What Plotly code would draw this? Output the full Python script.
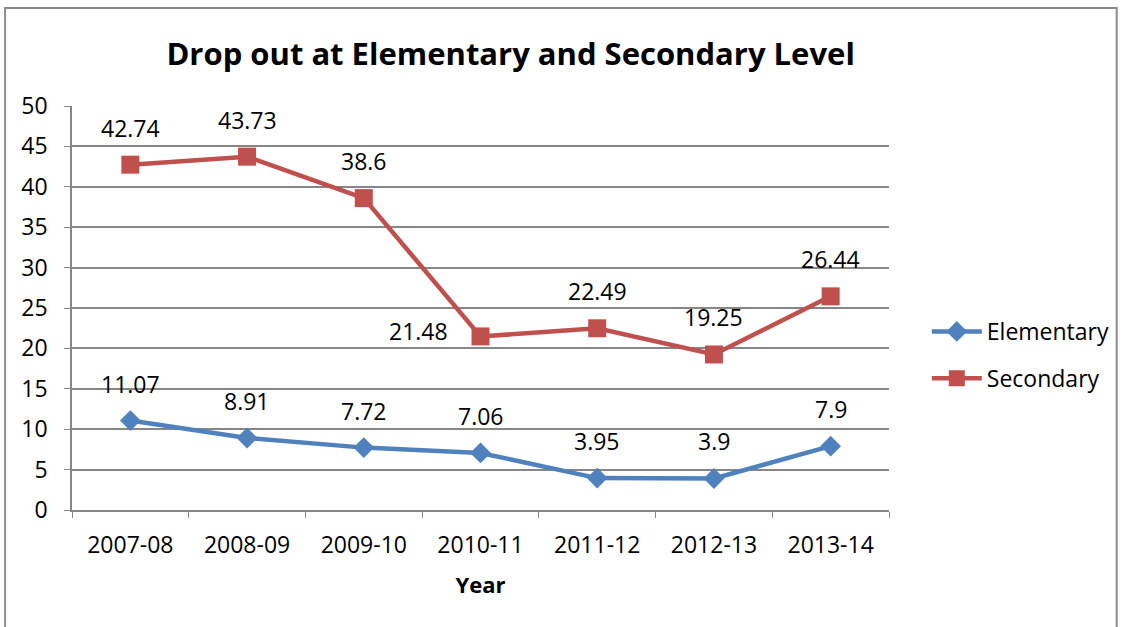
import plotly.graph_objects as go

years = ["2007-08", "2008-09", "2009-10", "2010-11", "2011-12", "2012-13", "2013-14"]
elementary = [11.07, 8.91, 7.72, 7.06, 3.95, 3.9, 7.9]
secondary = [42.74, 43.73, 38.6, 21.48, 22.49, 19.25, 26.44]

BLUE = "#4F81BD"
RED = "#C0504D"
GRID = "#868686"
FONT = "Open Sans"

fig = go.Figure()
fig.add_trace(go.Scatter(
    x=years, y=elementary, name="Elementary", mode="lines+markers",
    line=dict(color=BLUE, width=4.5),
    marker=dict(symbol="diamond", size=16, color=BLUE),
    legendgroup="e",
))
fig.add_trace(go.Scatter(
    x=years, y=secondary, name="Secondary", mode="lines+markers",
    line=dict(color=RED, width=4.5),
    marker=dict(symbol="square", size=18, color=RED),
    legendgroup="s",
))

# data labels: placed above each point, one secondary label sits to the left
left_labels = {("s", 3)}
for key, series in (("e", elementary), ("s", secondary)):
    for i, (yr, v) in enumerate(zip(years, series)):
        if (key, i) in left_labels:
            xs, ys = -62, 5
        else:
            xs, ys = 0, 37
        fig.add_annotation(
            x=yr, y=v, text=f"{v:g}", showarrow=False,
            xshift=xs, yshift=ys,
            font=dict(family=FONT, size=23, color="#000000"),
        )

# outer chart border
fig.add_shape(
    type="rect", xref="paper", yref="paper",
    x0=-0.0819, x1=1.2787, y0=-0.4, y1=1.2426,
    line=dict(color="#8C8C8C", width=2), layer="below",
)

fig.update_layout(
    width=1126, height=627,
    margin=dict(l=72, r=236, t=106, b=117),
    paper_bgcolor="white", plot_bgcolor="white",
    title=dict(
        text="<b>Drop out at Elementary and Secondary Level</b>",
        x=0.4535, xanchor="center", y=0.913, yanchor="middle",
        font=dict(family=FONT, size=31, color="#000000"),
    ),
    font=dict(family=FONT, size=23, color="#000000"),
    showlegend=True,
    legend=dict(
        x=1.045, xanchor="left", y=0.495, yanchor="top",
        font=dict(family=FONT, size=23, color="#000000"),
        traceorder="grouped", tracegroupgap=14,
        itemwidth=50,
    ),
    xaxis=dict(
        type="category", range=[-0.5, 6.5],
        showline=True, linecolor=GRID, linewidth=1.5,
        ticks="outside", tickson="boundaries", ticklen=6, tickcolor=GRID,
        ticklabelstandoff=14,
        showgrid=False, zeroline=False,
        title=dict(text="<b>Year</b>", font=dict(family=FONT, size=22), standoff=18),
        tickfont=dict(family=FONT, size=23),
    ),
    yaxis=dict(
        range=[0, 50], dtick=5,
        showline=True, linecolor=GRID, linewidth=1.5,
        ticks="outside", ticklen=6, tickcolor=GRID,
        ticklabelstandoff=12,
        showgrid=True, gridcolor=GRID, gridwidth=1.5,
        zeroline=False,
        tickfont=dict(family=FONT, size=23),
    ),
)

fig.write_html("out.html")
